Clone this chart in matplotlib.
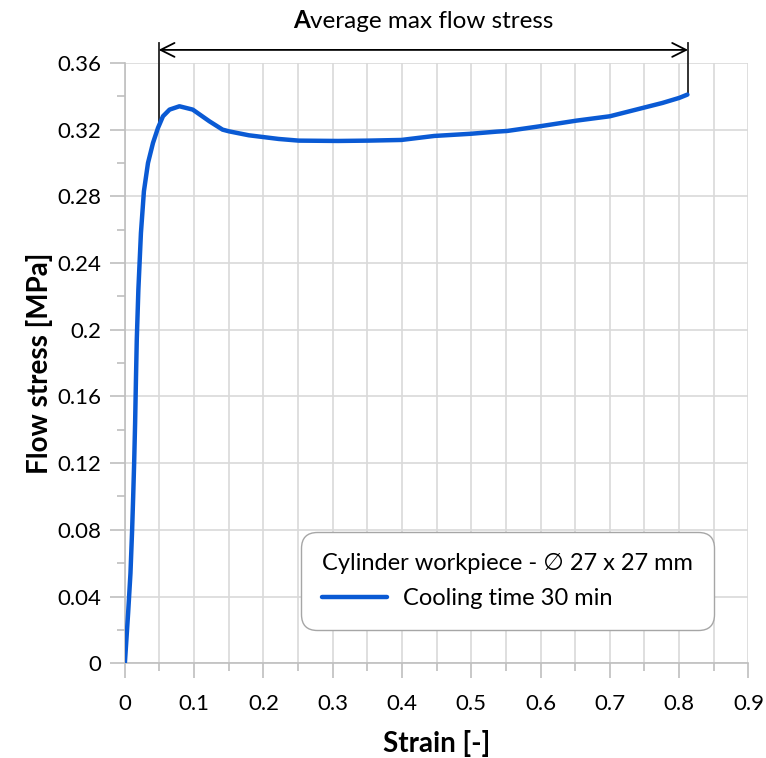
import numpy as np
import matplotlib
matplotlib.use('Agg')
import matplotlib.pyplot as plt
from matplotlib.ticker import MultipleLocator, FuncFormatter
from matplotlib.offsetbox import TextArea, HPacker, AnnotationBbox

plt.rcParams['font.family'] = ['Lato', 'DejaVu Sans']

# strain / flow stress values
strain = [0.0, 0.0047, 0.0081, 0.0105, 0.012, 0.0134, 0.0148, 0.0160, 0.0172,
          0.0195, 0.0232, 0.0275, 0.0334, 0.0406, 0.0478, 0.055, 0.0645, 0.0788,
          0.098, 0.122, 0.141, 0.150, 0.162, 0.179, 0.222, 0.251, 0.308, 0.351,
          0.399, 0.4466, 0.499, 0.537, 0.552, 0.599, 0.652, 0.700, 0.738, 0.776,
          0.800, 0.812]
stress = [0.0, 0.030, 0.054, 0.080, 0.0998, 0.120, 0.144, 0.170, 0.194,
          0.224, 0.258, 0.283, 0.300, 0.312, 0.321, 0.328, 0.332, 0.334,
          0.332, 0.325, 0.320, 0.319, 0.318, 0.3166, 0.3144, 0.3134, 0.3132, 0.3134,
          0.3138, 0.3162, 0.3175, 0.3188, 0.3192, 0.322, 0.3254, 0.328, 0.332, 0.336,
          0.339, 0.341]

span_start = 0.0487
span_end = 0.813
span_y = 0.3678
span_label = 'Average max flow stress'

legend_title = 'Cylinder workpiece - \u2205 27 x 27 mm'
series_label = 'Cooling time 30 min'

grid_col = '#d9d9d9'
line_col = '#0a5ad4'

fig = plt.figure(figsize=(7.66, 7.58), dpi=100)
ax = fig.add_axes([0.163, 0.125, 0.814, 0.792])

ax.plot(strain, stress, color=line_col, lw=3.2, solid_capstyle='round',
        label=series_label, zorder=3)

ax.set_xlim(0, 0.9)
ax.set_ylim(0, 0.36)
ax.xaxis.set_major_locator(MultipleLocator(0.1))
ax.xaxis.set_minor_locator(MultipleLocator(0.05))
ax.yaxis.set_major_locator(MultipleLocator(0.04))
ax.yaxis.set_minor_locator(MultipleLocator(0.02))
fmt = FuncFormatter(lambda v, p: ('%.2f' % v).rstrip('0').rstrip('.') if v > 1e-9 else '0')
ax.xaxis.set_major_formatter(fmt)
ax.yaxis.set_major_formatter(fmt)

ax.grid(which='major', color=grid_col, lw=1.2)
ax.grid(which='minor', axis='x', color=grid_col, lw=1.2)
ax.set_axisbelow(True)
for s in ['top', 'right']:
    ax.spines[s].set_visible(False)
for s in ['left', 'bottom']:
    ax.spines[s].set_color('#bfbfbf')
    ax.spines[s].set_linewidth(1.2)

ax.tick_params(which='major', length=11, width=1.2, color='#bfbfbf', labelsize=16)
ax.tick_params(which='minor', length=6, width=1.2, color='#bfbfbf')
ax.tick_params(axis='x', which='major', pad=11)
ax.tick_params(axis='y', which='major', pad=6)

ax.set_xlabel('Strain [-]', fontsize=20, fontweight='bold', labelpad=12)
ax.set_ylabel('Flow stress [MPa]', fontsize=20, fontweight='bold', labelpad=3)

# span arrow with the two drop lines
ax.annotate('', xy=(span_start, span_y), xytext=(span_end, span_y),
            arrowprops=dict(arrowstyle='<->', color='black', lw=1.3,
                            shrinkA=0, shrinkB=0, mutation_scale=25),
            annotation_clip=False)
ax.plot([span_start, span_start], [0.321, 0.372], color='#222222', lw=1.3, clip_on=False)
ax.plot([span_end, span_end], [stress[-1], 0.372], color='#222222', lw=1.3, clip_on=False)

# bold first letter + rest of label
ta1 = TextArea(span_label[0], textprops=dict(fontsize=17.5, fontweight='bold'))
ta2 = TextArea(span_label[1:], textprops=dict(fontsize=17.5))
pack = HPacker(children=[ta1, ta2], pad=0, sep=0, align='baseline')
ab = AnnotationBbox(pack, ((span_start + span_end) / 2, 0.3855), xycoords='data',
                    frameon=False, box_alignment=(0.5, 0.5), annotation_clip=False)
ax.add_artist(ab)

leg = ax.legend(loc='lower right', bbox_to_anchor=(0.945, 0.055), borderaxespad=0,
                title=legend_title, fontsize=17, title_fontsize=17,
                fancybox=True, framealpha=1, edgecolor='#a6a6a6',
                handlelength=2.75, handletextpad=0.7, borderpad=0.9, labelspacing=0.6)
leg.get_frame().set_linewidth(1.0)
leg.get_frame().set_boxstyle('round', pad=0, rounding_size=0.7)
leg._legend_box.align = 'left'
leg._legend_box.sep = 10

fig.savefig('out.png', dpi=100)
